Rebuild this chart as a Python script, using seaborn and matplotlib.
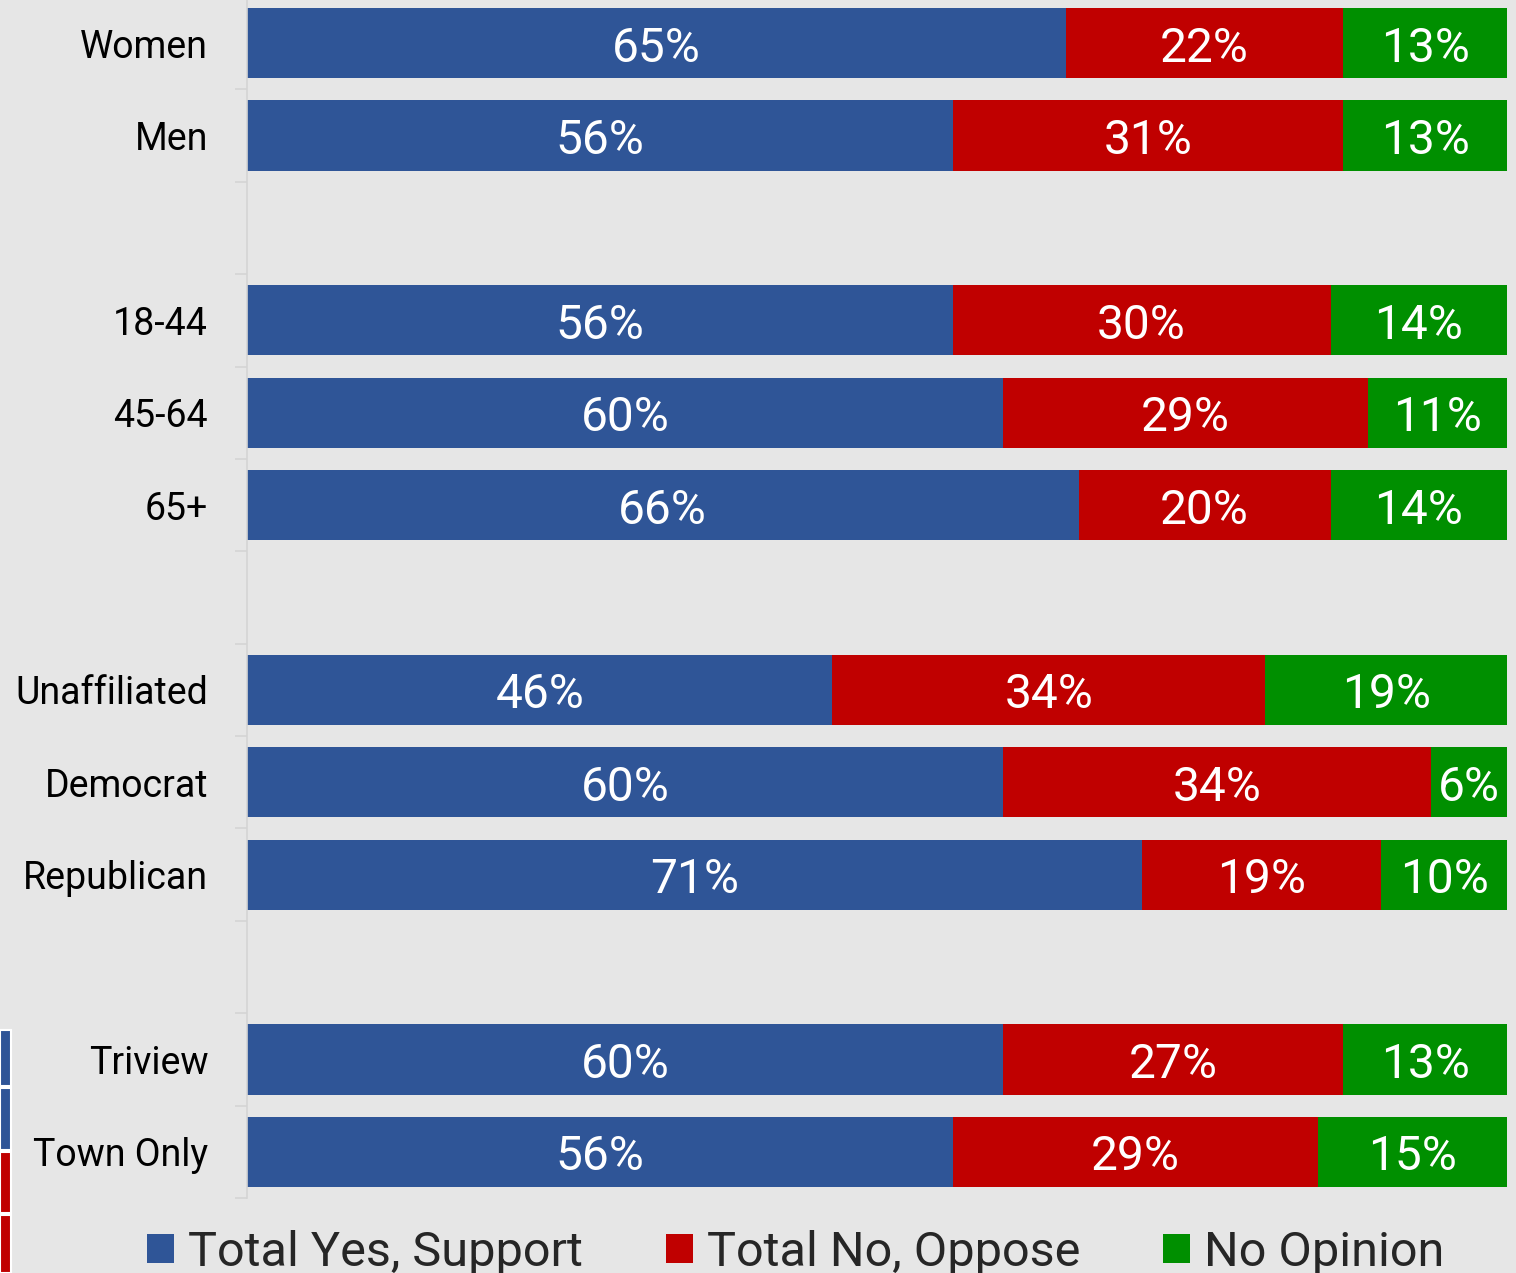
import numpy as np
import pandas as pd
import matplotlib
matplotlib.use("Agg")
import matplotlib.pyplot as plt
from matplotlib.patches import Patch, Rectangle
from matplotlib.ticker import FixedLocator
import seaborn as sns

# categories (blank strings are the spacer rows between groups)
groups = ["Women", "Men", " ", "18-44", "45-64", "65+", "  ",
          "Unaffiliated", "Democrat", "Republican", "   ", "Triview", "Town Only"]
yes_support = [65, 56, 0, 56, 60, 66, 0, 46, 60, 71, 0, 60, 56]
no_oppose = [22, 31, 0, 30, 29, 20, 0, 34, 34, 19, 0, 27, 29]
no_opinion = [13, 13, 0, 14, 11, 14, 0, 19, 6, 10, 0, 13, 15]
series_names = ["Total Yes, Support", "Total No, Oppose", "No Opinion"]

BLUE = "#2F5597"
RED = "#C00000"
GREEN = "#008F00"

df = pd.DataFrame({"group": groups, "yes": yes_support,
                   "no": no_oppose, "none": no_opinion})
tot = df[["yes", "no", "none"]].sum(axis=1).replace(0, 1)
# 100% stacked: normalise each row
df["p_yes"] = df["yes"] / tot * 100
df["p_no"] = df["no"] / tot * 100
df["p_none"] = df["none"] / tot * 100
df["c1"] = df["p_yes"]
df["c2"] = df["p_yes"] + df["p_no"]
df["c3"] = df["c2"] + df["p_none"]

sns.set_theme(style="white")
plt.rcParams["font.family"] = ["Roboto", "DejaVu Sans"]

fig = plt.figure(figsize=(15.16, 12.73), dpi=100)
fig.patch.set_facecolor("#E6E6E6")
ax = fig.add_axes([247 / 1516, 75 / 1273, 1260 / 1516, 1201 / 1273])
ax.set_facecolor("#E6E6E6")

# draw back to front
sns.barplot(data=df, x="c3", y="group", order=groups, color=GREEN,
            width=0.76, saturation=1, linewidth=0, ax=ax)
sns.barplot(data=df, x="c2", y="group", order=groups, color=RED,
            width=0.76, saturation=1, linewidth=0, ax=ax)
sns.barplot(data=df, x="c1", y="group", order=groups, color=BLUE,
            width=0.76, saturation=1, linewidth=0, ax=ax)

ax.set_xlim(0, 100)
ax.set_ylim(len(groups) - 0.5, -0.5)
ax.set_xlabel("")
ax.set_ylabel("")
ax.set_xticks([])

# value labels
for i, row in df.iterrows():
    if row["yes"] + row["no"] + row["none"] == 0:
        continue
    starts = [0, row["c1"], row["c2"]]
    widths = [row["p_yes"], row["p_no"], row["p_none"]]
    vals = [row["yes"], row["no"], row["none"]]
    for s, w, v in zip(starts, widths, vals):
        ax.text(s + w / 2, i + 0.06, f"{v}%", ha="center", va="center",
                color="white", fontsize=34.5)

for sp in ["top", "right", "bottom"]:
    ax.spines[sp].set_visible(False)
ax.spines["left"].set_color("#D4D4D4")
ax.spines["left"].set_linewidth(1.2)

ax.yaxis.set_minor_locator(FixedLocator(np.arange(-0.5, len(groups), 1)))
ax.tick_params(axis="y", which="major", length=0, pad=28, labelsize=27,
               labelcolor="black")
ax.tick_params(axis="y", which="minor", length=9, width=1.2, color="#D4D4D4",
               left=True)

handles = [Patch(facecolor=c, edgecolor="none") for c in (BLUE, RED, GREEN)]
fig.legend(handles, series_names, loc="center", bbox_to_anchor=(0.525, 0.016),
           ncol=3, frameon=False, fontsize=35, handlelength=0.55,
           handleheight=0.55, handletextpad=0.3, columnspacing=1.7)

# cropped slide strips at the left edge
for y0, h, c in [(1030, 56, BLUE), (1088, 62, BLUE), (1152, 61, RED), (1215, 58, RED)]:
    fig.patches.append(Rectangle((0, 1 - (y0 + h) / 1273), 11 / 1516, h / 1273,
                                 transform=fig.transFigure, facecolor=c,
                                 edgecolor="white", linewidth=1.5))

fig.savefig("out.png", dpi=100, facecolor=fig.get_facecolor())
